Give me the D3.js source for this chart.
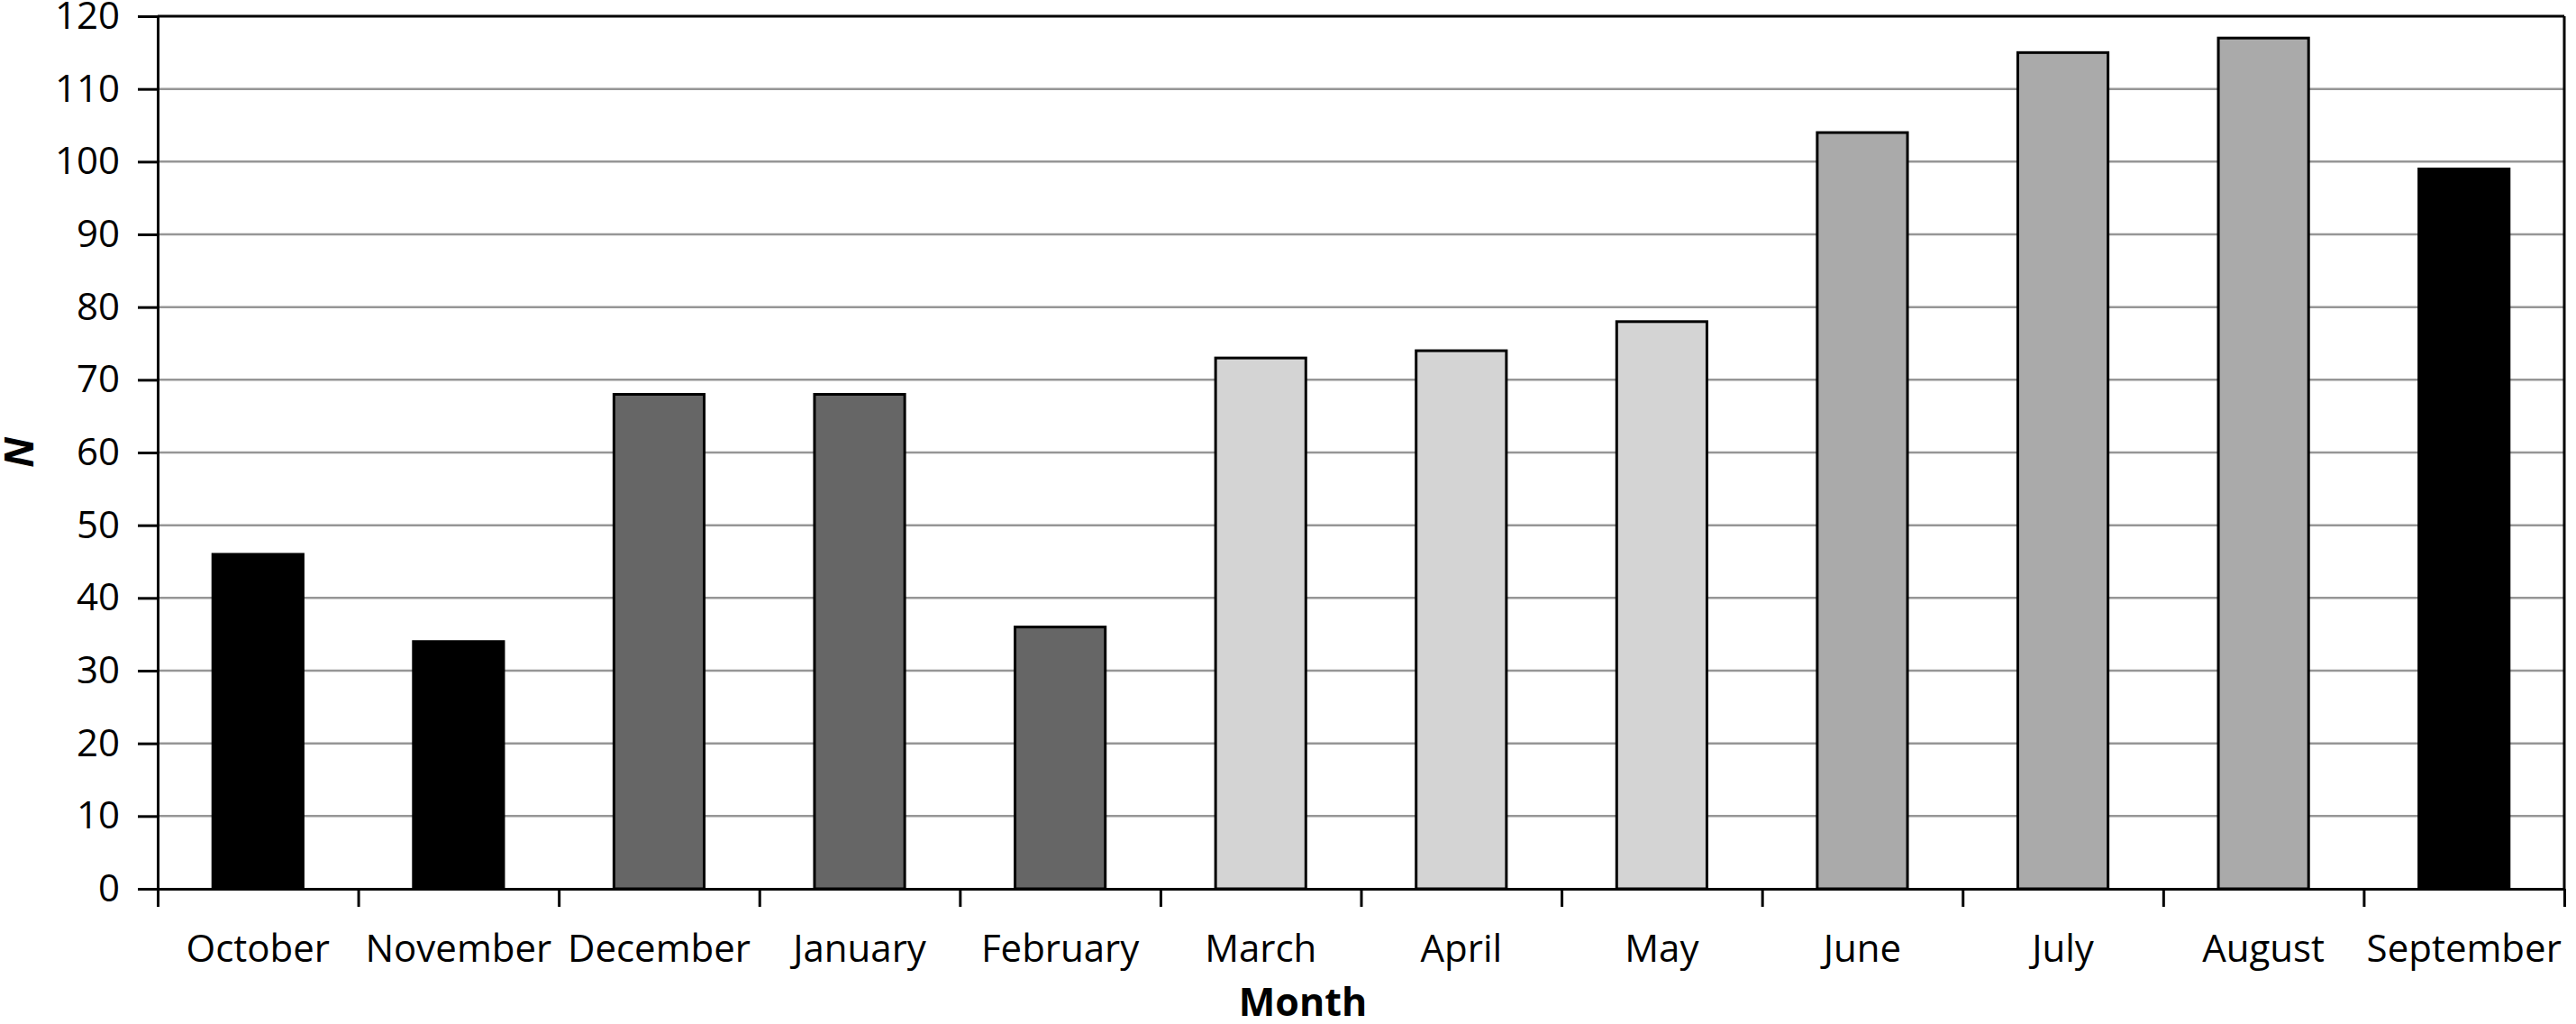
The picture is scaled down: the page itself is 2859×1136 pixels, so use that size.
<!DOCTYPE html>
<html>
<head>
<meta charset="utf-8">
<script src="https://cdn.jsdelivr.net/npm/d3@7"></script>
<style>
  html, body { margin: 0; padding: 0; background: #fff; }
  svg { display: block; }
  text { font-family: "Open Sans", sans-serif; fill: #000; }
</style>
</head>
<body>
<svg id="chart" width="2859" height="1136"></svg>
<script>
const months = ["October","November","December","January","February","March","April","May","June","July","August","September"];
const counts = [46, 34, 68, 68, 36, 73, 74, 78, 104, 115, 117, 99];
const seasons = ["autumn","autumn","winter","winter","winter","spring","spring","spring","summer","summer","summer","autumn"];
const seasonColors = {autumn: "#000000", winter: "#666666", spring: "#d4d4d4", summer: "#aaaaaa"};
const yTicks = [0,10,20,30,40,50,60,70,80,90,100,110,120];
const yTitle = "N";
const xTitle = "Month";

const W = 2859, H = 1136;
const m = {left: 175, right: W - 2846, top: 18, bottom: H - 986};
const pw = W - m.left - m.right, ph = H - m.top - m.bottom;

const svg = d3.select("#chart");
const g = svg.append("g").attr("transform", `translate(${m.left},${m.top})`);

const x = d3.scaleBand().domain(months).range([0, pw]).paddingInner(0.55).paddingOuter(0.275);
const y = d3.scaleLinear().domain([0, 120]).range([ph, 0]);
const xb = d3.scaleLinear().domain([0, months.length]).range([0, pw]);

// gridlines
g.append("g").selectAll("line").data(yTicks.filter(t => t > 0 && t < 120)).join("line")
  .attr("x1", 0).attr("x2", pw)
  .attr("y1", d => y(d)).attr("y2", d => y(d))
  .attr("stroke", "#969696").attr("stroke-width", 2.5);

// frame top/right
g.append("line").attr("x1", 0).attr("x2", pw).attr("y1", y(120)).attr("y2", y(120))
  .attr("stroke", "#000").attr("stroke-width", 3);
g.append("line").attr("x1", pw).attr("x2", pw).attr("y1", 0).attr("y2", ph)
  .attr("stroke", "#000").attr("stroke-width", 3);

// bars
g.append("g").selectAll("rect").data(months).join("rect")
  .attr("x", d => x(d))
  .attr("width", x.bandwidth())
  .attr("y", (d, i) => y(counts[i]))
  .attr("height", (d, i) => y(0) - y(counts[i]))
  .attr("fill", (d, i) => seasonColors[seasons[i]])
  .attr("stroke", "#000").attr("stroke-width", 3);

// y axis
const yAxis = g.append("g")
  .call(d3.axisLeft(y).tickValues(yTicks).tickSize(22).tickPadding(20).tickSizeOuter(0));
yAxis.select(".domain").attr("stroke", "#000").attr("stroke-width", 3);
yAxis.selectAll(".tick line").attr("stroke", "#000").attr("stroke-width", 3);
yAxis.selectAll("text").style("font-size", "42px").style("font-family", "'Open Sans', sans-serif");

// x axis boundary ticks
const xTickAxis = g.append("g").attr("transform", `translate(0,${ph})`)
  .call(d3.axisBottom(xb).tickValues(d3.range(0, months.length + 1)).tickSize(20).tickFormat("").tickSizeOuter(0));
xTickAxis.select(".domain").attr("stroke", "#000").attr("stroke-width", 3);
xTickAxis.selectAll(".tick line").attr("stroke", "#000").attr("stroke-width", 3);

// x labels
const xAxis = g.append("g").attr("transform", `translate(0,${ph})`)
  .call(d3.axisBottom(x).tickSize(0).tickPadding(51));
xAxis.select(".domain").remove();
xAxis.selectAll("text").style("font-size", "42px").style("font-family", "'Open Sans', sans-serif");

// titles
svg.append("text").attr("x", 1446).attr("y", 1127)
  .attr("text-anchor", "middle")
  .style("font-size", "43px").style("font-weight", "bold")
  .text(xTitle);
svg.append("text")
  .attr("transform", "translate(37,502) rotate(-90)")
  .attr("text-anchor", "middle")
  .style("font-size", "45px").style("font-weight", "bold").style("font-style", "italic")
  .text(yTitle);
</script>
</body>
</html>
